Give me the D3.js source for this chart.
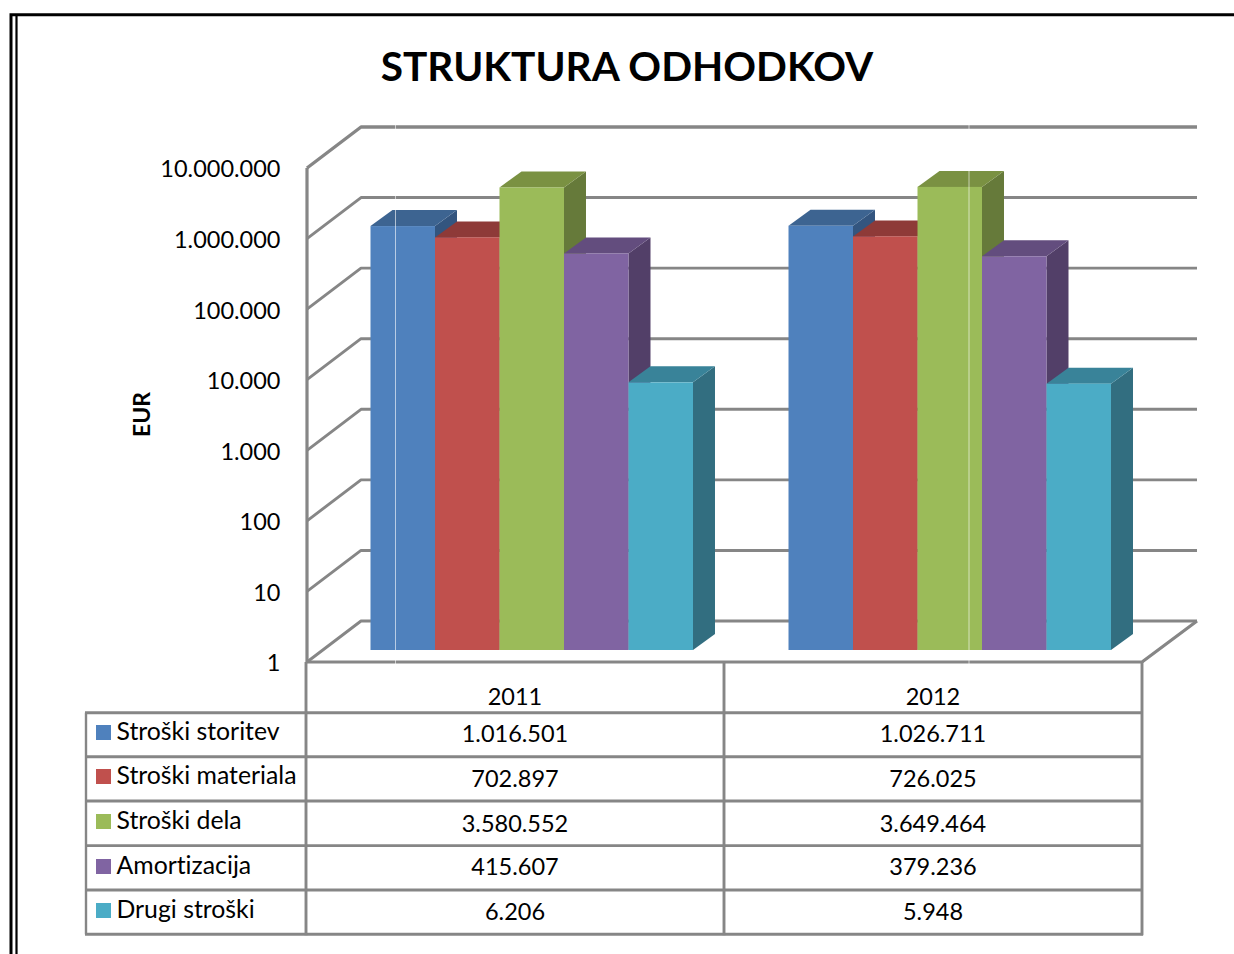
<!DOCTYPE html>
<html>
<head>
<meta charset="utf-8">
<script src="https://cdn.jsdelivr.net/npm/d3@7/dist/d3.min.js"></script>
<style>
html,body{margin:0;padding:0;background:#fff;}
svg{display:block;}
text{font-family:Lato,"Noto Sans",sans-serif;fill:#000;font-variant-ligatures:none;}
</style>
</head>
<body>
<svg id="c" width="1234" height="954"></svg>
<script>
const years = ["2011", "2012"];
const seriesNames = ["Stroški storitev", "Stroški materiala", "Stroški dela", "Amortizacija", "Drugi stroški"];
const values2011 = [1016501, 702897, 3580552, 415607, 6206];
const values2012 = [1026711, 726025, 3649464, 379236, 5948];
const frontColors = ["#4F81BD", "#C0504D", "#9BBB59", "#8064A2", "#4BACC6"];
const topColors = ["#3D6491", "#8E3A38", "#7A9142", "#634D7E", "#398399"];
const sideColors = ["#33557F", "#76302E", "#667A3A", "#523F68", "#326E80"];
const tickValues = [1, 10, 100, 1000, 10000, 100000, 1000000, 10000000];

const GRID = "#868686";
const svg = d3.select("#c");
const fmt = d3.formatLocale({decimal: ",", thousands: ".", grouping: [3], currency: ["", ""]}).format(",");

/* frame */
const frame = svg.append("g").attr("fill", "none").attr("stroke", "#000");
frame.append("path").attr("d", "M11,954V14.8H1234").attr("stroke-width", 3);
frame.append("path").attr("d", "M16.5,954V15").attr("stroke-width", 2.2);

/* scales */
const wall = {xFront: 307, xBack: 361, xEnd: 1142, xBackEnd: 1197, dy: 41};
const y = d3.scaleLog().domain([1, 1e7]).range([662, 168]);
const yBar = d3.scaleLog().domain([1, 1e7]).range([650, 156]);
const x0 = d3.scaleBand().domain(years).range([370.5, 1111]).paddingInner(0.2285);
const x1 = d3.scaleBand().domain(seriesNames).range([0, x0.bandwidth()]);
const depth = {dx: 22, dy: 16};
const hairlineX = [395.5, 969];

/* gridlines on the walls */
const grid = svg.append("g").attr("fill", "none").attr("stroke", GRID).attr("stroke-linejoin", "round");
grid.selectAll("path.g").data(tickValues).join("path").attr("class", "g")
  .attr("stroke-width", d => d === 1e7 ? 3.4 : 2.9)
  .attr("d", d => `M${wall.xFront},${y(d)}L${wall.xBack},${y(d) - wall.dy}H${wall.xBackEnd}`);
grid.append("path").attr("stroke-width", 3.2)
  .attr("d", `M${wall.xFront},${y(1e7)}V${y(1)}H${wall.xEnd}L${wall.xBackEnd},${y(1) - wall.dy}`);

/* bars */
const rows = [];
years.forEach((yr, yi) => seriesNames.forEach((s, si) => {
  rows.push({yr, s, si, v: (yi === 0 ? values2011 : values2012)[si]});
}));
const bars = svg.append("g").selectAll("g").data(rows).join("g");
bars.append("path").attr("fill", d => sideColors[d.si]).attr("d", d => {
  const r = x0(d.yr) + x1(d.s) + x1.bandwidth(), t = yBar(d.v), b = yBar(1);
  return `M${r},${t}L${r + depth.dx},${t - depth.dy}V${b - depth.dy}L${r},${b}Z`;
});
bars.append("path").attr("fill", d => topColors[d.si]).attr("d", d => {
  const l = x0(d.yr) + x1(d.s), w = x1.bandwidth(), t = yBar(d.v);
  return `M${l},${t}L${l + depth.dx},${t - depth.dy}H${l + w + depth.dx}L${l + w},${t}Z`;
});
bars.append("rect").attr("fill", d => frontColors[d.si])
  .attr("x", d => x0(d.yr) + x1(d.s))
  .attr("y", d => yBar(d.v))
  .attr("width", x1.bandwidth())
  .attr("height", d => yBar(1) - yBar(d.v));

/* pale hairlines at the back wall's category marks */
svg.append("g").selectAll("line").data(hairlineX).join("line")
  .attr("x1", d => d).attr("x2", d => d)
  .attr("y1", y(1e7) - wall.dy - 2).attr("y2", y(1) + 2)
  .attr("stroke", "#fff").attr("stroke-opacity", 0.6).attr("stroke-width", 1);

/* y axis */
const axis = d3.axisLeft(y).tickValues(tickValues).tickFormat(fmt).tickSize(0).tickPadding(0);
const ga = svg.append("g").attr("transform", "translate(280.5,0)").call(axis);
ga.select(".domain").remove();
ga.selectAll("text").attr("font-family", "Lato").attr("font-size", 23.5).attr("dy", 8.9).attr("fill", "#000");

/* titles */
svg.append("text").attr("x", 627).attr("y", 81).attr("text-anchor", "middle")
  .attr("font-weight", 700).attr("font-size", 40.6).text("STRUKTURA ODHODKOV");
svg.append("text").attr("transform", "translate(150,414.5) rotate(-90)").attr("text-anchor", "middle")
  .attr("font-weight", 700).attr("font-size", 23).text("EUR");

/* data table */
const rowLines = [712.7, 756.7, 801, 845.6, 890, 934.3];
const colX = d3.scaleBand().domain(years).range([306, 1142]);
const tb = svg.append("g").attr("fill", "none").attr("stroke", GRID);
tb.selectAll("line.h").data(rowLines).join("line").attr("class", "h")
  .attr("x1", 85).attr("x2", 1143).attr("y1", d => d).attr("y2", d => d).attr("stroke-width", 2.9);
tb.append("line").attr("x1", 86).attr("x2", 86).attr("y1", rowLines[0]).attr("y2", rowLines[5]).attr("stroke-width", 2.4);
tb.selectAll("line.v").data([...years.map(d => colX(d)), 1142]).join("line").attr("class", "v")
  .attr("x1", d => d).attr("x2", d => d).attr("y1", y(1)).attr("y2", rowLines[5] + 1).attr("stroke-width", 2.9);

const fs = 23.5;
const legendFs = 24.8;
const legendBase = [740, 784, 829, 874, 917.5];
const swatchTop = [725, 769, 814, 859, 903];
const valueBase = [741.5, 787, 831.5, 875, 920];
svg.append("g").selectAll("rect").data(seriesNames).join("rect")
  .attr("x", 96).attr("y", (d, i) => swatchTop[i]).attr("width", 15).attr("height", 15)
  .attr("fill", (d, i) => frontColors[i]);
svg.append("g").selectAll("text").data(seriesNames).join("text")
  .attr("x", 116.5).attr("y", (d, i) => legendBase[i]).attr("font-size", legendFs).text(d => d);
svg.append("g").selectAll("text").data(years).join("text")
  .attr("x", d => colX(d) + colX.bandwidth() / 2).attr("y", 705)
  .attr("text-anchor", "middle").attr("font-size", fs).text(d => d);
svg.append("g").selectAll("text").data(rows).join("text")
  .attr("x", d => colX(d.yr) + colX.bandwidth() / 2).attr("y", d => valueBase[d.si])
  .attr("text-anchor", "middle").attr("font-size", fs).text(d => fmt(d.v));
</script>
</body>
</html>
